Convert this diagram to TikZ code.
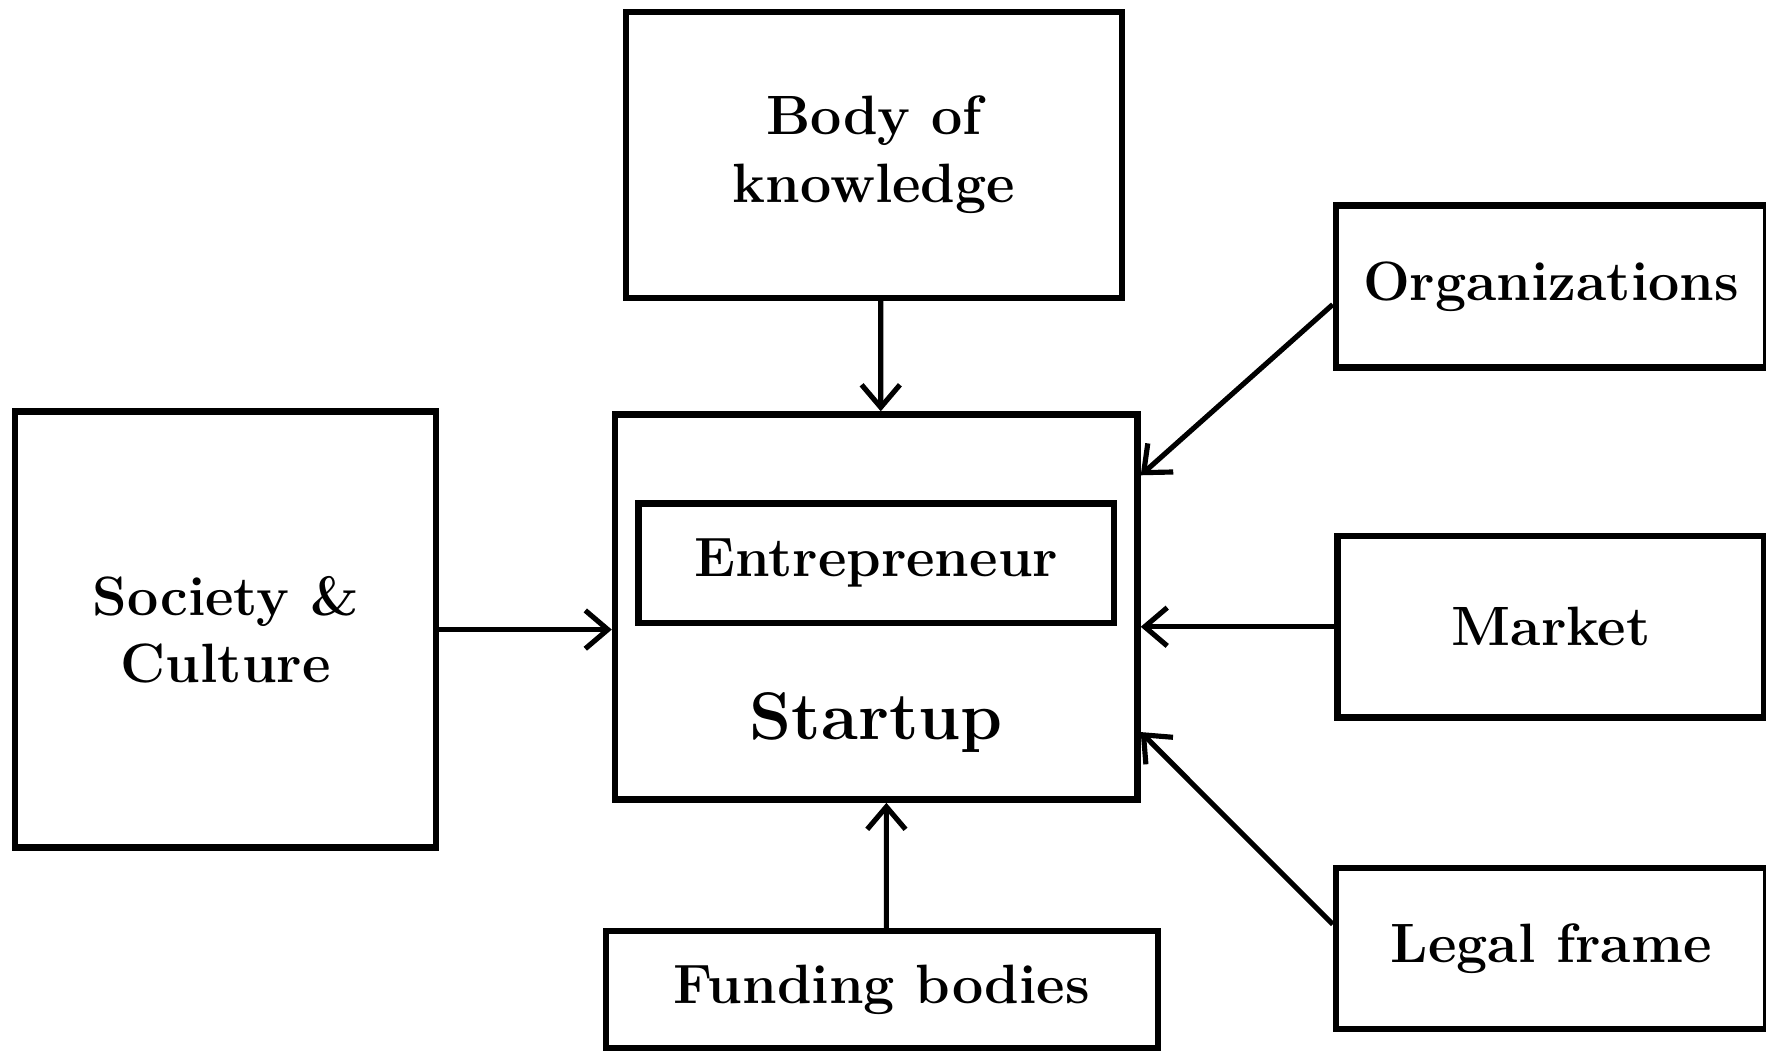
\documentclass[tikz,border=0pt]{standalone}
\usepackage{amsmath,amssymb}
\usetikzlibrary{shapes,arrows.meta,calc,positioning}

\begin{document}
\begin{tikzpicture}[
    box/.style={draw, line width=1.6pt, align=center, inner sep=0pt,
      font=\fontsize{14}{17}\selectfont\bfseries},
    link/.style={-{Straight Barb[length=2mm,width=3.4mm]}, line width=1.3pt},
  ]
  \useasboundingbox (0,0) rectangle (15.68,9.38);

  \node [box, minimum width=4.64cm, minimum height=3.42cm] (startup) at (7.78,3.99) {};
  \node [box, minimum width=4.22cm, minimum height=1.06cm, below=0.79cm of startup.north] (entre) {Entrepreneur};
  \node [font=\fontsize{17}{20}\selectfont\bfseries, anchor=base] (startuplabel) at ($(startup.south)+(0,0.56)$) {Startup};

  \node [box, minimum width=4.40cm, minimum height=2.54cm, above=0.98cm of startup, xshift=-0.02cm] (body) {Body of\\knowledge};
  \node [box, minimum width=4.90cm, minimum height=1.04cm, below=1.11cm of startup, xshift=0.05cm] (funding) {Funding bodies};

  \node [box, minimum width=3.74cm, minimum height=3.87cm, left=1.53cm of startup, yshift=-0.2cm] (society) {Society \&\\Culture};

  \node [box, minimum width=3.79cm, minimum height=1.61cm, right=1.72cm of startup, yshift=-0.175cm] (market) {Market};
  \node [box, minimum width=3.82cm, minimum height=1.44cm, above=1.44cm of market] (orgs) {Organizations};
  \node [box, minimum width=3.82cm, minimum height=1.43cm, below=1.28cm of market] (legal) {Legal frame};

  \draw [link] ([xshift=0.06cm]body.south) -- ([xshift=0.04cm]startup.north);
  \draw [link] ([xshift=0.04cm]funding.north) -- ([xshift=0.09cm]startup.south);
  \draw [link] (society) -- (society -| startup.west);
  \draw [link] (market) -- (market -| startup.east);
  \draw [link] ([yshift=-0.16cm]orgs.west) -- ([yshift=1.17cm]startup.east);
  \draw [link] ([yshift=0.215cm]legal.west) -- ([yshift=-1.11cm]startup.east);
\end{tikzpicture}
\end{document}
